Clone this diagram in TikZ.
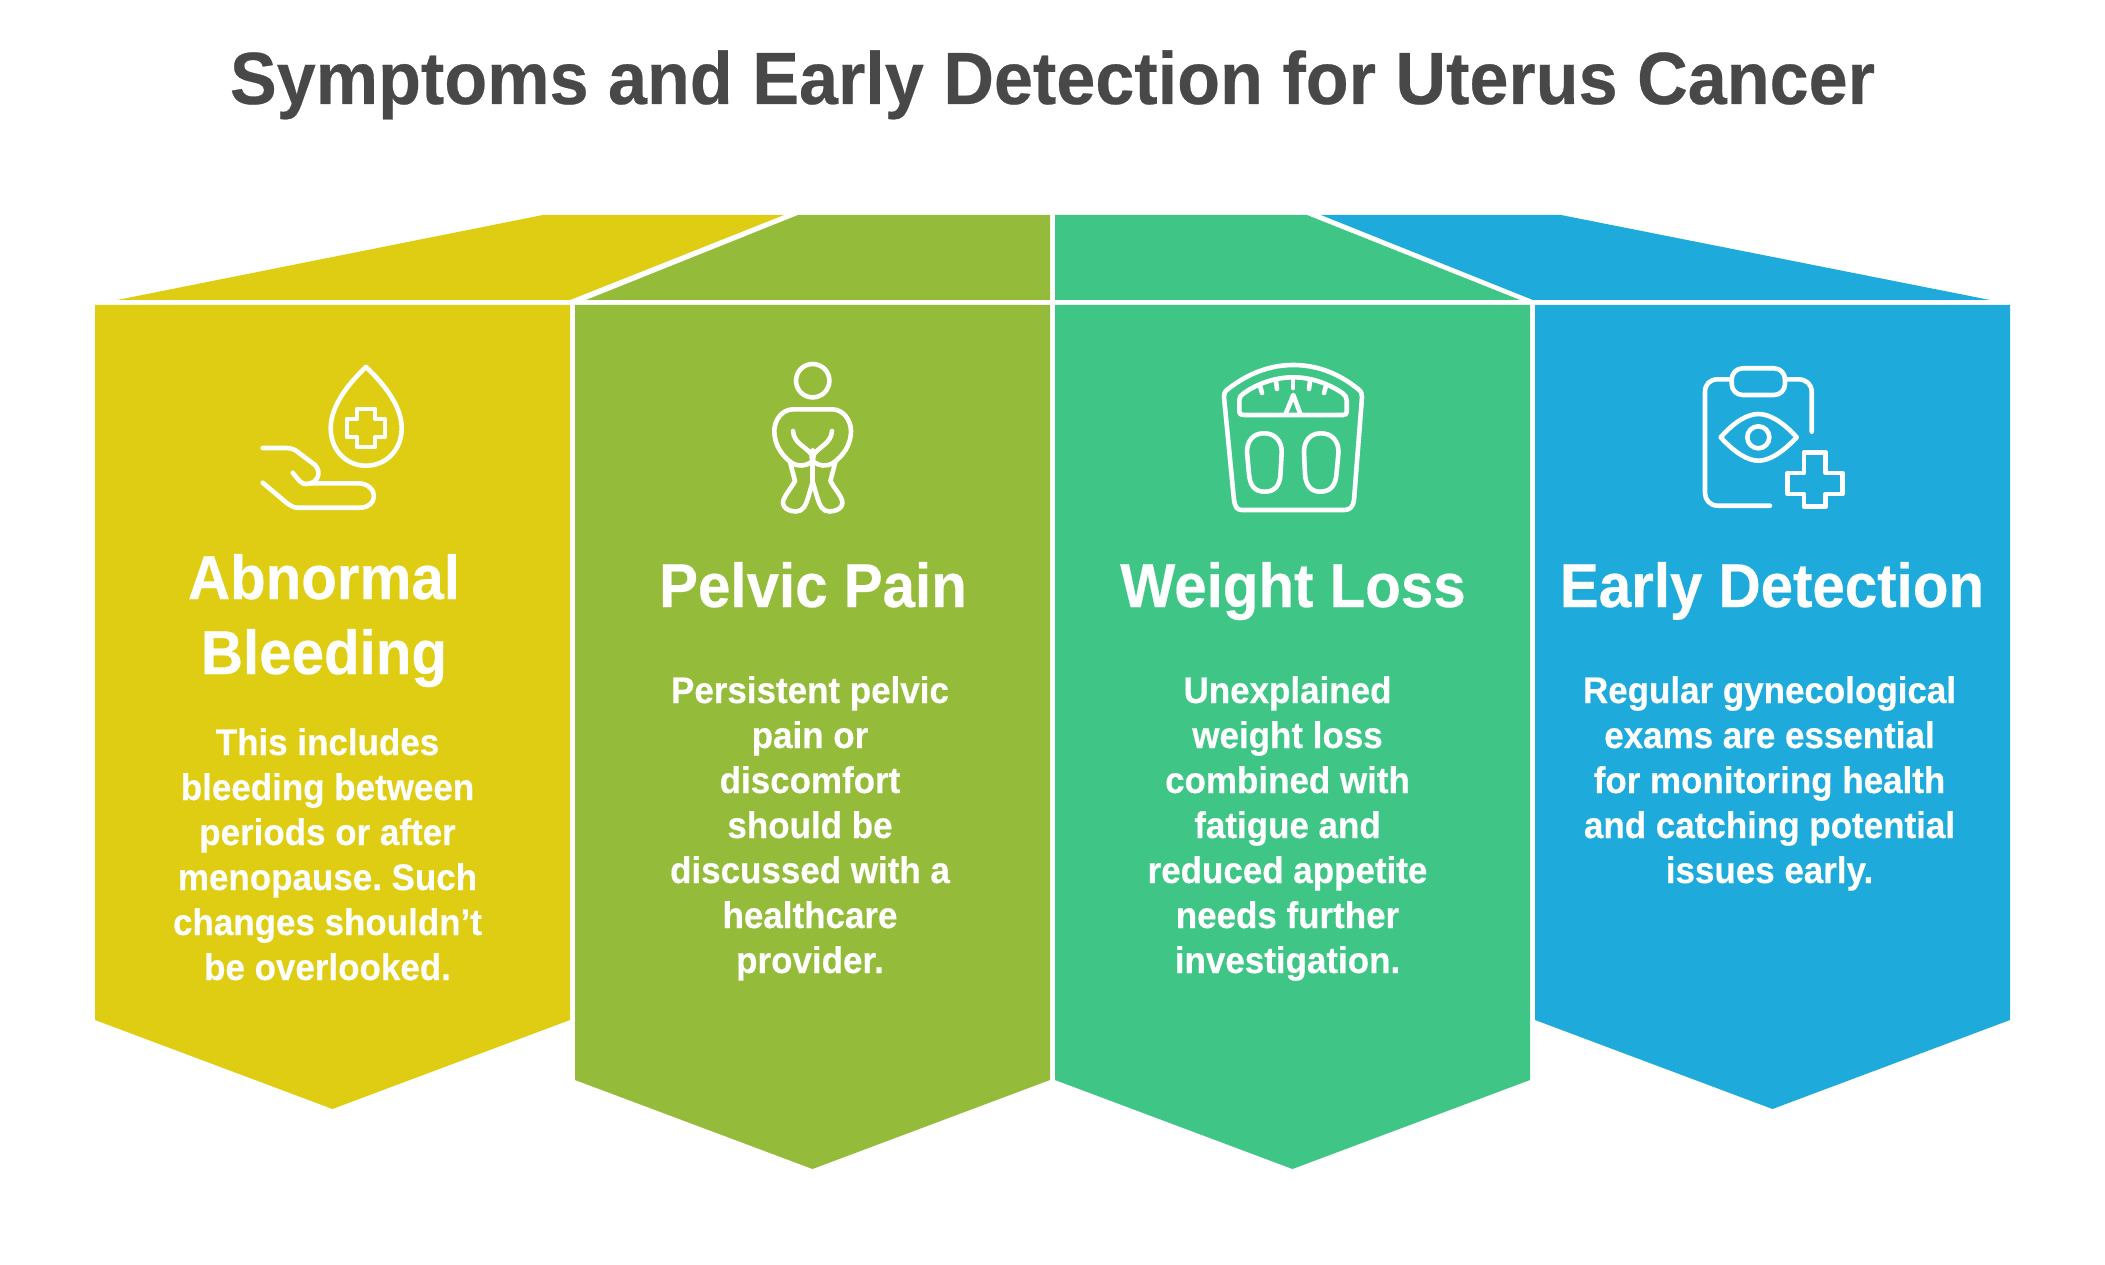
\documentclass[tikz,border=0pt]{standalone}
\usepackage{fontspec}
\setmainfont{Liberation Sans}
\newfontfamily\titlefont[FakeStretch=0.948,BoldFeatures={FakeBold=0.35}]{Liberation Sans}
\newfontfamily\headfont[FakeStretch=0.94,BoldFeatures={FakeBold=0.35}]{Liberation Sans}
\newfontfamily\bodyfont[FakeStretch=0.945,BoldFeatures={FakeBold=0.35}]{Liberation Sans}
\frenchspacing
\definecolor{cyellow}{HTML}{DFCD14}
\definecolor{cgreen}{HTML}{94BC3A}
\definecolor{cteal}{HTML}{3FC686}
\definecolor{cblue}{HTML}{1EABDC}
\definecolor{ctitle}{HTML}{484848}
\tikzset{
  titletext/.style={text=ctitle,font=\titlefont\fontsize{74}{80}\selectfont\bfseries,inner sep=0pt,anchor=base},
  headtext/.style={text=white,font=\headfont\fontsize{62}{75}\selectfont\bfseries,inner sep=0pt,anchor=base,align=center},
  bodytext/.style={text=white,font=\bodyfont\fontsize{37}{45}\selectfont\bfseries,inner sep=0pt,anchor=base,align=center},
  icon/.style={draw=white,line width=4.6pt,line cap=round,line join=round},
}
\begin{document}
\begin{tikzpicture}[x=1pt,y=-1pt]
\useasboundingbox (0,0) rectangle (2105,1265);
% roofs
\fill[cyellow] (117,300) -- (543,215) -- (784,215) -- (570,300) -- cycle;
\fill[cgreen] (586,300) -- (798,215) -- (1050,215) -- (1050,300) -- cycle;
\fill[cteal] (1055,300) -- (1055,215) -- (1307,215) -- (1520,300) -- cycle;
\fill[cblue] (1533,300) -- (1321,215) -- (1561,215) -- (1990,300) -- cycle;
% panels
\fill[cyellow] (95,305) -- (570,305) -- (570,1020) -- (332.5,1109) -- (95,1020) -- cycle;
\fill[cgreen] (575,305) -- (1050,305) -- (1050,1080) -- (812.5,1169) -- (575,1080) -- cycle;
\fill[cteal] (1055,305) -- (1530,305) -- (1530,1080) -- (1292.5,1169) -- (1055,1080) -- cycle;
\fill[cblue] (1535,305) -- (2010,305) -- (2010,1020) -- (1772.5,1109) -- (1535,1020) -- cycle;
% title
\node[titletext] (title) at (1052.5,104) {Symptoms and Early Detection for Uterus Cancer};
% headings
\node[headtext] (h1) at (324,674) {Abnormal\\Bleeding};
\node[headtext] (h2) at (813,607) {Pelvic Pain};
\node[headtext] (h3) at (1293,607) {Weight Loss};
\node[headtext] (h4) at (1772,607) {Early Detection};
% bodies
\node[bodytext] (b1) at (327.5,980) {This includes\\bleeding between\\periods or after\\menopause. Such\\changes shouldn’t\\be overlooked.};
\node[bodytext] (b2) at (810,973) {Persistent pelvic\\pain or\\discomfort\\should be\\discussed with a\\healthcare\\provider.};
\node[bodytext] (b3) at (1287.5,973) {Unexplained\\weight loss\\combined with\\fatigue and\\reduced appetite\\needs further\\investigation.};
\node[bodytext] (b4) at (1769.5,883) {Regular gynecological\\exams are essential\\for monitoring health\\and catching potential\\issues early.};
% icon 1: drop and hand
\draw[icon] (366,367) .. controls (350,382) and (330.7,405) .. (330.7,428) .. controls (330.7,450) and (346,465.7) .. (366,465.7) .. controls (386,465.7) and (401.7,450) .. (401.7,428) .. controls (401.7,405) and (382,382) .. (366,367) -- cycle;
\draw[icon] (357,409) -- (375,409) -- (375,419) -- (385,419) -- (385,437) -- (375,437) -- (375,447) -- (357,447) -- (357,437) -- (347,437) -- (347,419) -- (357,419) -- cycle;
\draw[icon] (262.7,448) -- (286,448) .. controls (292,448) and (296,450) .. (299,453) -- (315,465) .. controls (322,472) and (318,484) .. (306,484) .. controls (302,484) and (300,482) .. (292.7,472.7);
\draw[icon] (311,483.3) -- (358,483.3) .. controls (368,483.3) and (374,490) .. (374,496) .. controls (374,503) and (368,507.7) .. (360,507.7) -- (298,507.7) .. controls (294,507.7) and (291,506) .. (288,504) -- (262.7,482.7);
% icon 2: person
\draw[icon] (812.7,380.7) circle[radius=16.7];
\draw[icon] (793.5,409.3) -- (832,409.3) .. controls (843,409.3) and (851,420) .. (851,431) .. controls (851,445) and (843,456) .. (833,463) .. controls (826,467) and (819,466) .. (814,462) .. controls (811,459) and (811,455) .. (812.7,450) .. controls (814,454) and (814,459) .. (811.5,462) .. controls (806,466) and (799,467) .. (792,463) .. controls (782,456) and (774.3,445) .. (774.3,431) .. controls (774.3,420) and (782,409.3) .. (793.5,409.3) -- cycle;
\draw[icon] (793,431) .. controls (794,444) and (806,446) .. (812.7,456) .. controls (819,446) and (831,444) .. (832,431);
\draw[icon] (790,461.7) -- (795,481) .. controls (790,490) and (783,497) .. (783,503) .. controls (783,508) and (789,511.5) .. (796,511.5) .. controls (803,511.5) and (806,505) .. (808,498) -- (812.7,481.7) -- (817.4,498) .. controls (819.4,505) and (822.4,511.5) .. (829.4,511.5) .. controls (836.4,511.5) and (842.4,508) .. (842.4,503) .. controls (842.4,497) and (835.4,490) .. (830.4,481) -- (835.4,461.7);
\draw[icon] (812.7,465) -- (812.7,481.7);
% icon 3: scale
\draw[icon] (1228,389) .. controls (1250,372) and (1272,365) .. (1293.3,365) .. controls (1315,365) and (1337,372) .. (1358,389) .. controls (1361,391) and (1362.3,394) .. (1362,397) -- (1354,500) .. controls (1353,507) and (1350,510) .. (1344,510) -- (1242,510) .. controls (1237,510) and (1235,507) .. (1234,500) -- (1224,397) .. controls (1223.5,394) and (1225,391) .. (1228,389) -- cycle;
\draw[icon] (1244,415) -- (1343,415) .. controls (1345.5,415) and (1346.7,414) .. (1346.7,412) -- (1346.7,400) .. controls (1346.7,397) and (1345,395) .. (1343,393.5) .. controls (1328,383) and (1310,377.3) .. (1293.3,377.3) .. controls (1276,377.3) and (1258,383) .. (1243.5,393.5) .. controls (1241,395) and (1239.3,397) .. (1239.3,400) -- (1239.3,412) .. controls (1239.3,414) and (1241,415) .. (1244,415) -- cycle;
\draw[icon] (1260,386) -- (1262,393);
\draw[icon] (1276,381) -- (1277,389);
\draw[icon] (1293,379) -- (1293,388);
\draw[icon] (1310,381) -- (1309,389);
\draw[icon] (1326,386) -- (1324,393);
\draw[icon] (1286,413) -- (1293.3,395) -- (1300,413);
\draw[icon] (1264,433.3) .. controls (1253,433.3) and (1247,441) .. (1247,452) -- (1249,474) .. controls (1250,485) and (1254,491.7) .. (1265,491.7) .. controls (1275,491.7) and (1280,485) .. (1280.5,474) -- (1281.7,452) .. controls (1281.7,441) and (1275,433.3) .. (1264,433.3) -- cycle;
\draw[icon] (1321,433.3) .. controls (1310,433.3) and (1304,441) .. (1304,452) -- (1305,474) .. controls (1305.5,485) and (1311,491.7) .. (1320,491.7) .. controls (1331,491.7) and (1335.5,485) .. (1336.5,474) -- (1338.5,452) .. controls (1338.5,441) and (1332,433.3) .. (1321,433.3) -- cycle;
% icon 4: clipboard
\draw[icon] (1770,505.7) -- (1718,505.7) .. controls (1710,505.7) and (1705,500) .. (1705,493) -- (1705,392) .. controls (1705,384) and (1710,379.3) .. (1718,379.3) -- (1731,379.3);
\draw[icon] (1786,379.3) -- (1798,379.3) .. controls (1806,379.3) and (1811.7,384) .. (1811.7,392) -- (1811.7,431.7);
\draw[icon,rounded corners=11pt] (1731.7,368.3) rectangle (1785,395);
\draw[icon] (1720.7,437.3) .. controls (1735,421) and (1748,414) .. (1758.3,414) .. controls (1769,414) and (1782,421) .. (1796.7,437.3) .. controls (1782,453) and (1769,460.7) .. (1758.3,460.7) .. controls (1748,460.7) and (1735,453) .. (1720.7,437.3) -- cycle;
\draw[icon] (1758.3,437.3) circle[radius=11];
\draw[icon] (1804,452.3) -- (1825.7,452.3) -- (1825.7,473) -- (1842.3,473) -- (1842.3,494) -- (1825.7,494) -- (1825.7,506.7) -- (1804,506.7) -- (1804,494) -- (1787.7,494) -- (1787.7,473) -- (1804,473) -- cycle;
\end{tikzpicture}
\end{document}
